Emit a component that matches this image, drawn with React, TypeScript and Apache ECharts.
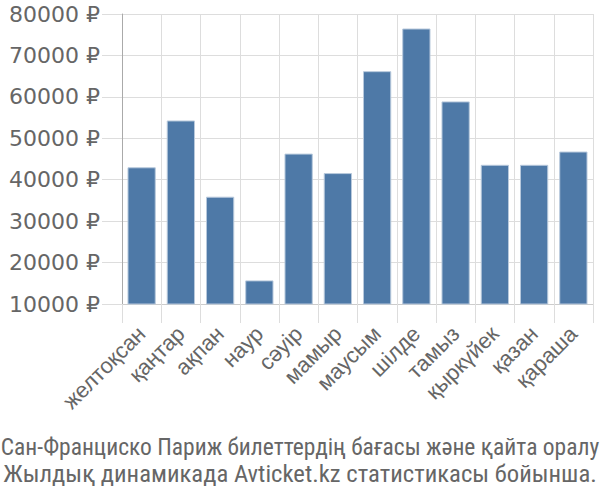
import React, { useEffect, useRef } from "react";
import * as echarts from "echarts";

const categories = ["желтоқсан", "қаңтар", "ақпан", "наур", "сәуір", "мамыр", "маусым", "шілде", "тамыз", "қыркүйек", "қазан", "қараша"];
const prices = [43000, 54300, 35900, 15700, 46300, 41600, 66200, 76500, 58900, 43600, 43600, 46800];
const titleLines = [
  "Сан-Франциско Париж билеттердің бағасы және қайта оралу",
  "Жылдық динамикада Avticket.kz статистикасы бойынша.",
];

export default function App() {
  const ref = useRef<HTMLDivElement>(null);
  useEffect(() => {
    document.body.style.margin = "0";
    const chart = echarts.init(ref.current!, null, { renderer: "svg" });
    chart.setOption({
      animation: false,
      backgroundColor: "#fff",
      title: {
        text: titleLines[0],
        subtext: titleLines[1],
        left: "center",
        top: 434,
        padding: 0,
        itemGap: 0,
        textStyle: {
          fontFamily: "Roboto Condensed",
          fontSize: 23.5,
          fontWeight: "normal",
          color: "#666",
          lineHeight: 26,
        },
        subtextStyle: {
          fontFamily: "Roboto Condensed",
          fontSize: 24.7,
          fontWeight: "normal",
          color: "#666",
          lineHeight: 26,
        },
      },
      grid: { left: 122, right: 7, top: 14, bottom: 196, containLabel: false },
      xAxis: {
        type: "category",
        data: categories,
        axisLine: { show: true, lineStyle: { color: "#ccc" } },
        axisTick: { show: true, length: 19, lineStyle: { color: "#ddd" } },
        splitLine: { show: true, lineStyle: { color: "#ddd" } },
        axisLabel: {
          rotate: 45,
          fontSize: 22,
          color: "#666",
          fontFamily: "Liberation Sans",
          margin: 26,
          interval: 0,
        },
      },
      yAxis: {
        type: "value",
        min: 10000,
        max: 80000,
        interval: 10000,
        axisLine: { show: true, lineStyle: { color: "#aaa" } },
        axisTick: { show: true, length: 20, lineStyle: { color: "#ddd" } },
        splitLine: { show: true, lineStyle: { color: "#ddd" } },
        axisLabel: {
          formatter: (v: number) => `${v} ₽`,
          fontSize: 22,
          color: "#666",
          fontFamily: "DejaVu Sans",
          margin: 22,
        },
      },
      series: [
        {
          type: "bar",
          data: prices,
          barWidth: "72%",
          itemStyle: { color: "#4e79a7", borderColor: "#b8c9dc", borderWidth: 1 },
        },
      ],
    });
    return () => chart.dispose();
  }, []);
  return <div ref={ref} style={{ width: 600, height: 500 }} />;
}
